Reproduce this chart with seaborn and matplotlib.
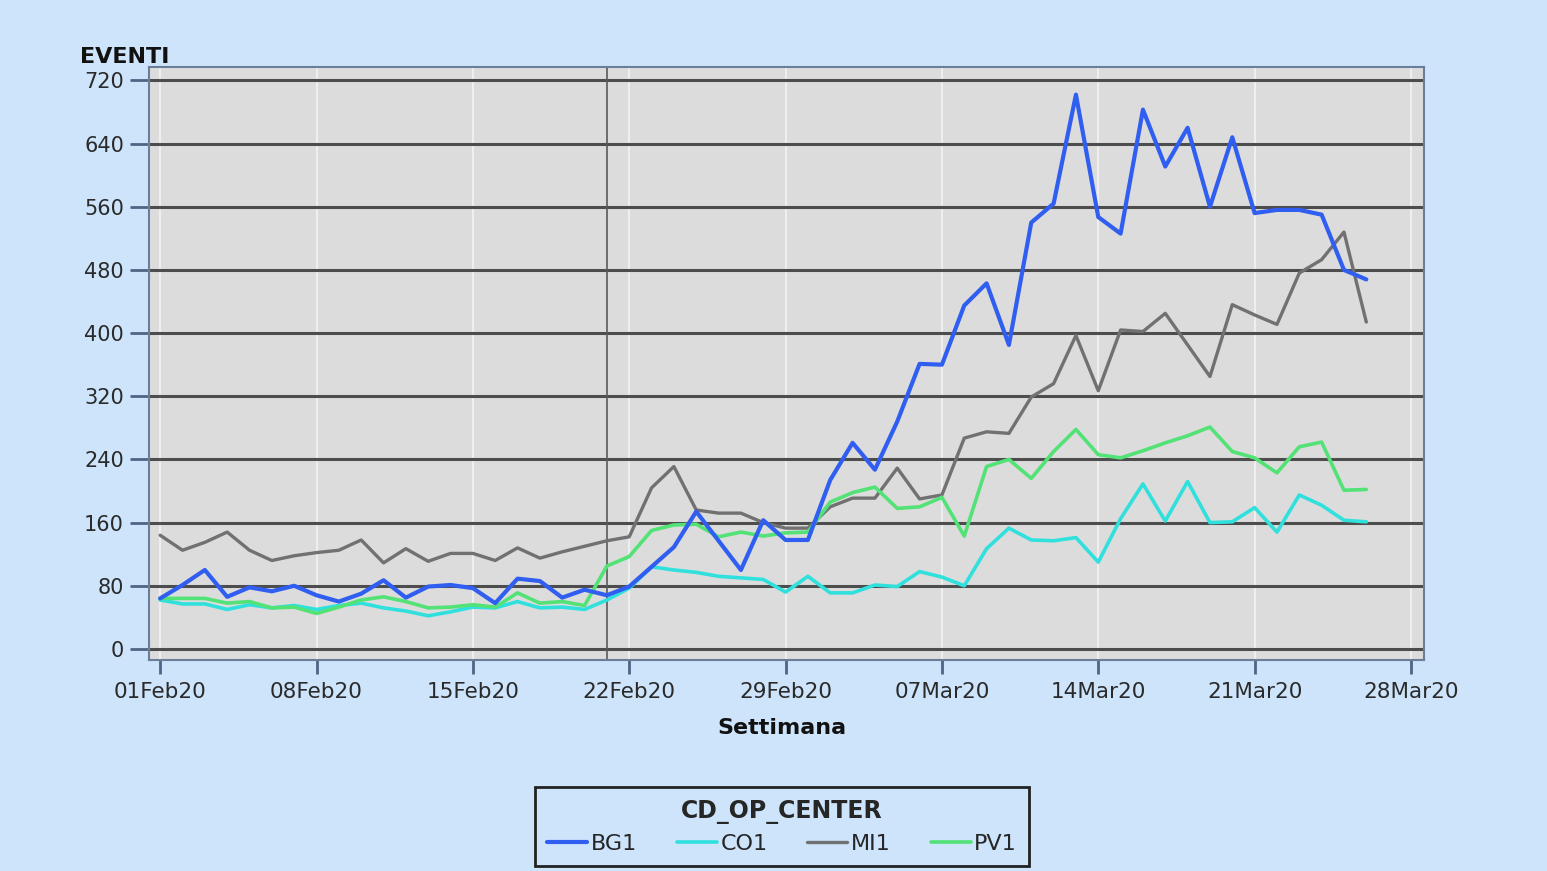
import numpy as np
import pandas as pd
import matplotlib
matplotlib.use("Agg")
import matplotlib.pyplot as plt
import matplotlib.dates as mdates
import seaborn as sns

# ---- data ----
dates = pd.date_range("2020-02-01", "2020-03-26", freq="D")
series_names = ["BG1", "CO1", "MI1", "PV1"]
BG1 = [64, 81, 100, 66, 78, 73, 80, 68, 60, 70, 87, 65, 79, 81, 77, 58, 89, 86, 65, 75,
       68, 79, 104, 129, 174, 137, 100, 163, 138, 138, 214, 261, 227, 288, 361, 360, 435,
       463, 385, 540, 564, 702, 547, 526, 683, 611, 660, 560, 648, 552, 556, 556, 550, 480, 468]
CO1 = [62, 57, 57, 50, 56, 52, 55, 50, 55, 58, 52, 48, 42, 47, 53, 52, 60, 52, 53, 50,
       62, 77, 104, 100, 97, 92, 90, 88, 72, 92, 71, 71, 81, 79, 98, 91, 80,
       127, 153, 138, 137, 141, 110, 165, 209, 162, 212, 160, 161, 179, 148, 195, 182, 163, 161]
MI1 = [144, 125, 135, 148, 125, 112, 118, 122, 125, 138, 109, 127, 111, 121, 121, 112, 128, 115, 123, 130,
       137, 142, 204, 231, 176, 172, 172, 160, 153, 153, 180, 191, 191, 229, 190, 195, 267,
       275, 273, 319, 336, 397, 327, 404, 402, 425, 385, 345, 436, 423, 411, 476, 493, 528, 414]
PV1 = [64, 64, 64, 58, 60, 52, 53, 45, 53, 62, 66, 60, 52, 53, 56, 53, 71, 58, 60, 55,
       105, 117, 150, 157, 158, 142, 148, 143, 147, 148, 186, 198, 205, 178, 180, 192, 143,
       231, 240, 216, 250, 278, 246, 242, 251, 261, 270, 281, 250, 242, 223, 256, 262, 201, 202]
y_ticks = [0, 80, 160, 240, 320, 400, 480, 560, 640, 720]
x_tick_dates = pd.date_range("2020-02-01", "2020-03-28", freq="7D")
ref_date = pd.Timestamp("2020-02-21")

values = {"BG1": BG1, "CO1": CO1, "MI1": MI1, "PV1": PV1}
colors = {"BG1": "#2f5ef0", "CO1": "#30e0dc", "MI1": "#717171", "PV1": "#52e276"}
widths = {"BG1": 3.0, "CO1": 2.6, "MI1": 2.4, "PV1": 2.6}
zorders = {"BG1": 6, "CO1": 4, "MI1": 3, "PV1": 5}

sns.set_style("white")
plt.rcParams["font.family"] = ["DejaVu Sans"]

fig = plt.figure(figsize=(15.47, 8.71), dpi=100)
fig.patch.set_facecolor("#cde4fb")
ax = fig.add_axes([149/1547, 1-660/871, (1424-149)/1547, (660-67)/871])
ax.set_facecolor("#dcdcdc")

for name in series_names:
    df = pd.DataFrame({"date": dates, "val": values[name]})
    sns.lineplot(data=df, x="date", y="val", color=colors[name], lw=widths[name],
                 label=name, ax=ax, zorder=zorders[name])

ax.set_ylim(-14, 737)
ax.set_xlim(pd.Timestamp("2020-02-01") - pd.Timedelta(hours=12),
            pd.Timestamp("2020-03-28") + pd.Timedelta(hours=14))
ax.set_yticks(y_ticks)
ax.set_xticks(x_tick_dates)
ax.xaxis.set_major_formatter(mdates.DateFormatter("%d%b%y"))

for yv in y_ticks:
    ax.axhline(yv, color="#4d4d4d", lw=2.2, zorder=1)
for xd in x_tick_dates:
    ax.axvline(xd, color="#f2f2f2", lw=1.2, zorder=0.5)
ax.axvline(ref_date, color="#5a5a5a", lw=1.2, zorder=2)

for s in ax.spines.values():
    s.set_color("#6a7d9a")
    s.set_linewidth(1.5)

ax.tick_params(axis="y", length=14, width=2, color="#4f6585", labelsize=15,
               labelcolor="#2a2a2a", pad=4, left=True)
ax.tick_params(axis="x", length=10, width=2, color="#4f6585", labelsize=15.5,
               labelcolor="#2a2a2a", pad=6, bottom=True)
ax.set_xlabel("")
ax.set_ylabel("")

fig.text(80/1547, 1-57/871, "EVENTI", fontsize=16, fontweight="bold",
         ha="left", va="center", color="#111111")
fig.text(782/1547, 1-728/871, "Settimana", fontsize=16, fontweight="bold",
         ha="center", va="center", color="#111111")

handles, labels = ax.get_legend_handles_labels()
order = [labels.index(n) for n in series_names]
ax.get_legend().remove()
leg = fig.legend([handles[i] for i in order], [labels[i] for i in order],
                 loc="upper center", bbox_to_anchor=(782/1547, 1-787/871),
                 borderaxespad=0,
                 ncol=4, title="CD_OP_CENTER", fontsize=16, title_fontsize=17,
                 frameon=True, fancybox=False, edgecolor="#222222",
                 facecolor="#cde4fb", framealpha=1, handlelength=1.8,
                 handletextpad=0.15, columnspacing=1.8, borderpad=0.55,
                 labelspacing=0.3)
leg.get_title().set_fontweight("bold")
leg._legend_box.sep = 7
leg.get_frame().set_linewidth(2)

fig.savefig("out.png", dpi=100, facecolor=fig.get_facecolor())
